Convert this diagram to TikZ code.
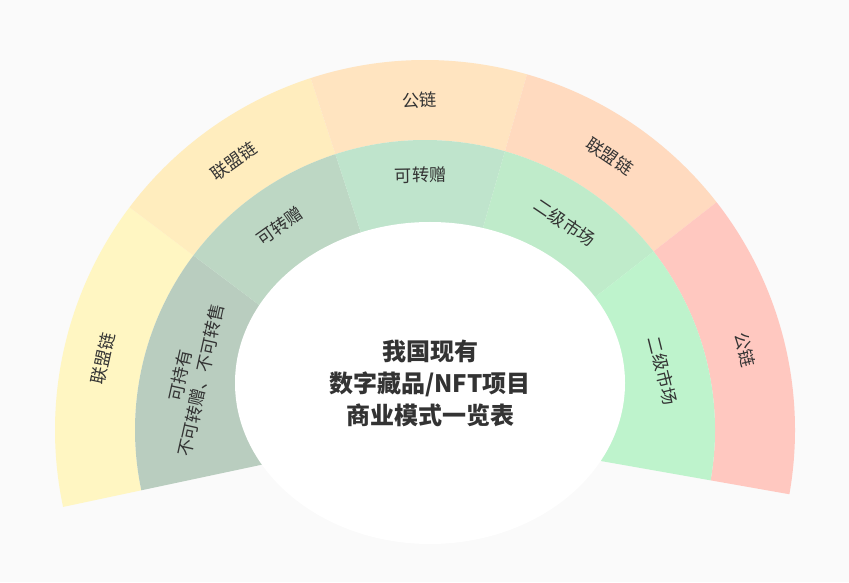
\documentclass[tikz,border=0pt]{standalone}
\usepackage{fontspec}
\newfontfamily\cjk{Noto Sans CJK SC}
\definecolor{bg}{HTML}{FAFAFA}
\definecolor{o1}{HTML}{FFF6C2}
\definecolor{o2}{HTML}{FFEDBE}
\definecolor{o3}{HTML}{FFE4C0}
\definecolor{o4}{HTML}{FFDABF}
\definecolor{o5}{HTML}{FFC8C0}
\definecolor{i1}{HTML}{B9CDBF}
\definecolor{i2}{HTML}{BDD7C4}
\definecolor{i3}{HTML}{BFE4CC}
\definecolor{i4}{HTML}{BFEBCA}
\definecolor{i5}{HTML}{BEF3CC}
\definecolor{txt}{HTML}{333333}
\newcommand{\mysector}[5]{\fill[#1,shift={(425,152)}] (#2:#4) arc[start angle=#2,end angle=#3,radius=#4] -- (#3:#5) arc[start angle=#3,end angle=#2,radius=#5] -- cycle;}
\tikzset{lab/.style={text=txt,font=\cjk\fontsize{13}{16}\selectfont,align=center}}
\begin{document}
\begin{tikzpicture}[x=0.75pt,y=0.75pt]
\fill[bg] (0,0) rectangle (849,582);
\useasboundingbox (0,0) rectangle (849,582);
\mysector{o1}{192}{143}{290}{370}
\mysector{o2}{143}{108}{290}{370}
\mysector{o3}{108}{74}{290}{370}
\mysector{o4}{74}{38}{290}{370}
\mysector{o5}{38}{-10}{290}{370}
\mysector{i1}{192}{143}{100}{290}
\mysector{i2}{143}{108}{100}{290}
\mysector{i3}{108}{74}{100}{290}
\mysector{i4}{74}{38}{100}{290}
\mysector{i5}{38}{-10}{100}{290}
\fill[white] (430,199) ellipse[x radius=195,y radius=161];
\begin{scope}[shift={(425,152)}]
\node[lab,rotate=77.5] (oa) at (167.5:330) {联盟链};
\node[lab,rotate=35.5] (ob) at (125.5:330) {联盟链};
\node[lab,rotate=1] (oc) at (91:330) {公链};
\node[lab,rotate=-34] (od) at (56:330) {联盟链};
\node[lab,rotate=-76] (oe) at (14:330) {公链};
\node[lab,rotate=77.5] (ia) at (167.5:240) {可持有\\不可转赠、不可转售};
\node[lab,rotate=35.5] (ib) at (125.5:250) {可转赠};
\node[lab,rotate=1] (ic) at (91:255) {可转赠};
\node[lab,rotate=-34] (id) at (56:250) {二级市场};
\node[lab,rotate=-76] (ie) at (14:245) {二级市场};
\end{scope}
\node[text=txt,font=\cjk\fontsize{18}{24}\selectfont\bfseries,align=center] (c) at (430,199) {我国现有\\数字藏品/NFT项目\\商业模式一览表};
\end{tikzpicture}
\end{document}
